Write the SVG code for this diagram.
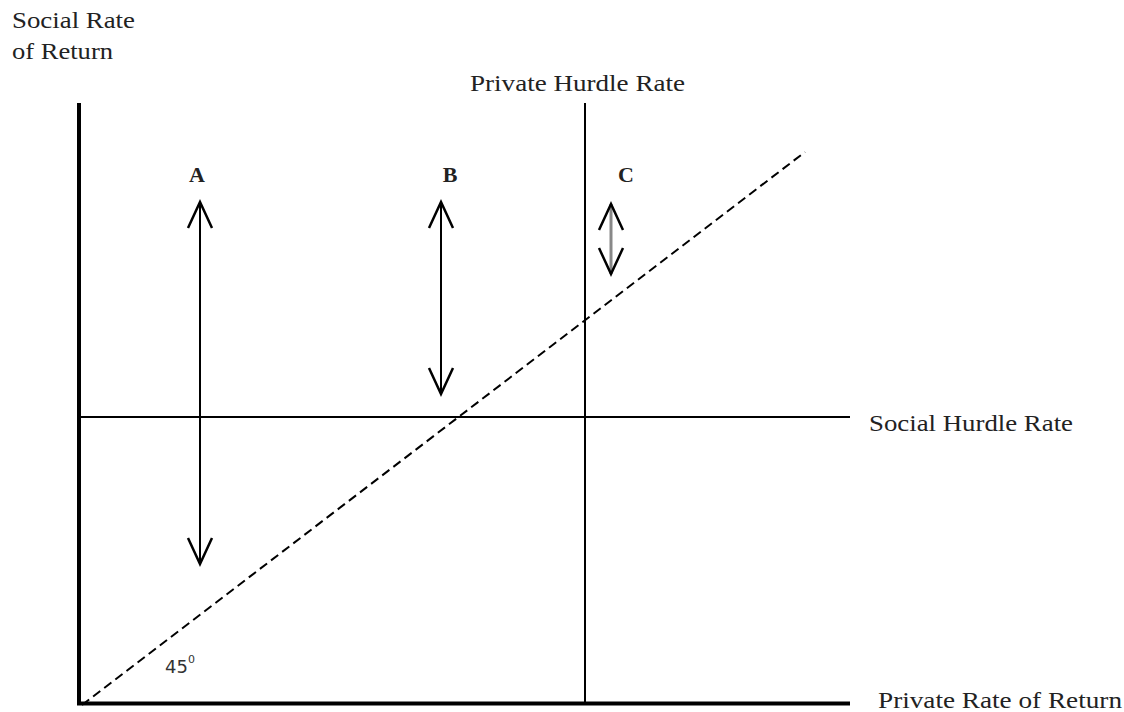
<svg xmlns="http://www.w3.org/2000/svg" width="1124" height="712" viewBox="0 0 1124 712">
<style>
.t{font-family:"Liberation Serif","Times New Roman",serif;font-size:23px;fill:#222}
.b{font-family:"Liberation Serif","Times New Roman",serif;font-size:22px;font-weight:bold;fill:#222}
.ax{stroke:#000;stroke-width:4;fill:none}
.ln{stroke:#000;stroke-width:2;fill:none}
.ar{stroke:#000;stroke-width:2;fill:none}
.hd{stroke:#000;stroke-width:2.5;fill:none;stroke-linejoin:miter}
</style>
<rect width="1124" height="712" fill="#fff"/>
<g id="connectors">
<line class="ax" x1="79" y1="103" x2="79" y2="705"/>
<line class="ax" x1="77" y1="703.5" x2="850" y2="703.5"/>
<line class="ln" x1="79" y1="417" x2="850" y2="417"/>
<line class="ln" x1="585" y1="103" x2="585" y2="703"/>
<line x1="82" y1="705" x2="805" y2="152" stroke="#000" stroke-width="2" stroke-dasharray="9,5"/>
<g id="arrowA">
<line class="ar" x1="200" y1="202" x2="200" y2="564"/>
<polyline class="hd" points="188,228 200,202 212,228"/>
<polyline class="hd" points="188,538 200,564 212,538"/>
</g>
<g id="arrowB">
<line class="ar" x1="441" y1="202" x2="441" y2="394"/>
<polyline class="hd" points="429,228 441,202 453,228"/>
<polyline class="hd" points="429,368 441,394 453,368"/>
</g>
<g id="arrowC">
<line x1="611" y1="204" x2="611" y2="274" stroke="#888" stroke-width="3"/>
<polyline class="hd" points="599,230 611,204 623,230"/>
<polyline class="hd" points="599,248 611,274 623,248"/>
</g>
</g>
<g id="labels">
<text class="t" x="12" y="28" textLength="123" lengthAdjust="spacingAndGlyphs">Social Rate</text>
<text class="t" x="12" y="59" textLength="101" lengthAdjust="spacingAndGlyphs">of Return</text>
<text class="t" x="470" y="91" textLength="215" lengthAdjust="spacingAndGlyphs">Private Hurdle Rate</text>
<text class="t" x="869" y="431" textLength="204" lengthAdjust="spacingAndGlyphs">Social Hurdle Rate</text>
<text class="t" x="878" y="708" textLength="244" lengthAdjust="spacingAndGlyphs">Private Rate of Return</text>
<text class="b" x="197" y="182" text-anchor="middle">A</text>
<text class="b" x="450" y="182" text-anchor="middle">B</text>
<text class="b" x="626" y="182" text-anchor="middle">C</text>
<text x="165" y="673" font-family="'DejaVu Sans',sans-serif" font-size="18" fill="#333">45<tspan font-size="11" dy="-10">0</tspan></text>
</g>
</svg>
